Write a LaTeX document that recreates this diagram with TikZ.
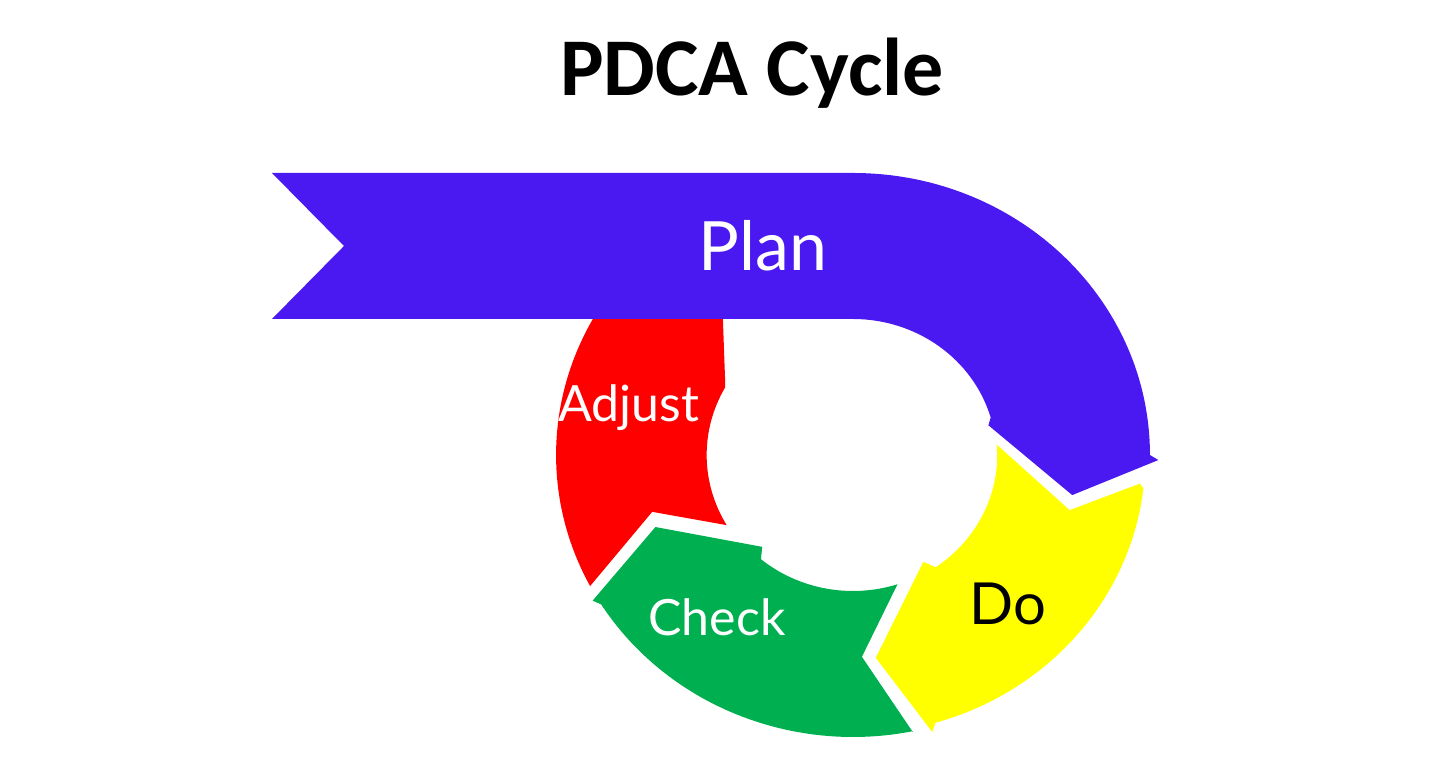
\documentclass[tikz,border=0pt]{standalone}
\usepackage{fontspec}
\usepackage{tikz}
\usetikzlibrary{positioning}
\newfontfamily\lato{Lato}
\newfontfamily\carlito{Carlito}
\definecolor{planblue}{RGB}{74,24,241}
\definecolor{adjustred}{RGB}{255,0,0}
\definecolor{doyellow}{RGB}{255,255,0}
\definecolor{checkgreen}{RGB}{0,176,80}
\tikzset{
  steptext/.style={anchor=base, inner sep=0pt, font=\lato},
}

\begin{document}
\begin{tikzpicture}[x=0.5pt, y=0.5pt]
    \useasboundingbox (0,0) rectangle (1455,764);
    \node [anchor=base, font=\carlito\bfseries\fontsize{41}{48}\selectfont] (title) at (752,668) {PDCA Cycle};
    \begin{scope}[shift={(853,309)}, xscale=1.053]
        % adjust, check, do first; plan on top
        \fill [adjustred] (-152.3:282) -- (-163.4:199) -- (-149.7:139) arc[start angle=-149.7, end angle=-209, radius=139]
            -- (-210.6:141) -- (-233:207) -- (-223:290) -- (-222:282) arc[start angle=-222, end angle=-152.3, radius=282] -- cycle;
        \fill [checkgreen] (-78.4:283) -- (-87.6:202) -- (-71.9:136) arc[start angle=-71.9, end angle=-130, radius=136]
            -- (-133.2:126) -- (-159:201) -- (-149.5:287) -- (-148:282) arc[start angle=-148, end angle=-78.4, radius=282] -- cycle;
        \fill [doyellow] (-6:274) -- (-15:213) -- (4.3:137) arc[start angle=4.3, end angle=-55, radius=137]
            -- (-58:126) -- (-83.9:204) -- (-74.8:287) -- (-73.7:279) arc[start angle=-73.7, end angle=-6.5, radius=277] -- cycle;
        \fill [planblue] (-551.8,282) -- (-483.4,209) -- (-551.8,136) -- (0,136) arc[start angle=90, end angle=16, radius=136]
            -- (13:132) -- (-10.9:212) -- (-1:290) -- (0:282) arc[start angle=0, end angle=90, radius=282] -- cycle;
    \end{scope}
    \node [steptext, text=white, font=\lato\fontsize{34}{40}\selectfont] (plan) at (763,493) {Plan};
    \node [steptext, text=black, font=\lato\fontsize{29}{34}\selectfont] (do) at (1008,139) {Do};
    \node [steptext, text=white, font=\lato\fontsize{25}{30}\selectfont] (check) at (717,128) {Check};
    \node [steptext, text=white, font=\lato\fontsize{25}{30}\selectfont] (adjust) at (629,342) {Adjust};
\end{tikzpicture}
\end{document}
